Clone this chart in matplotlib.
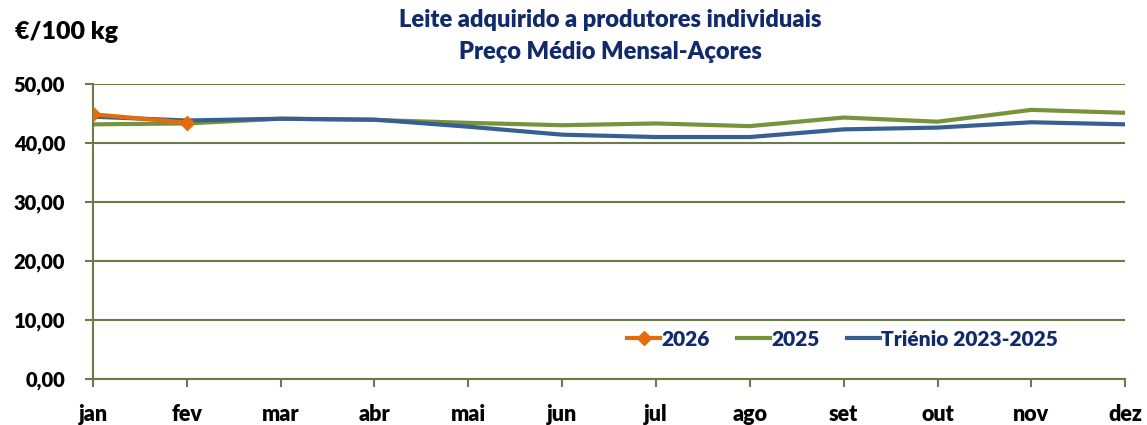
import matplotlib.pyplot as plt

months = ["jan", "fev", "mar", "abr", "mai", "jun", "jul", "ago", "set", "out", "nov", "dez"]
y2026 = [44.85, 43.45]
y2025 = [43.15, 43.3, 44.1, 43.9, 43.4, 43.0, 43.3, 42.85, 44.3, 43.6, 45.6, 45.1]
trienio = [44.45, 43.8, 44.1, 43.95, 42.75, 41.4, 41.0, 41.0, 42.3, 42.6, 43.5, 43.15]

navy = "#102a6b"
grid_col = "#6a7a48"
W = "heavy"

plt.rcParams['font.family'] = ['Lato', 'DejaVu Sans']

fig = plt.figure(figsize=(11.47, 4.25), dpi=100)
ax = fig.add_axes([0.081, 0.108, 0.9, 0.6946])

x = range(len(months))
ax.plot(range(len(y2026)), y2026, color="#E46C0A", lw=3, marker="D", ms=7, label="2026", zorder=4)
ax.plot(x, y2025, color="#77933C", lw=3, label="2025", zorder=2)
ax.plot(x, trienio, color="#376092", lw=3, label="Triénio 2023-2025", zorder=3)

ax.set_xlim(0, 11)
ax.set_ylim(0, 50)
ax.set_yticks(range(0, 51, 10))
ax.set_yticklabels([f"{v},00" for v in range(0, 51, 10)])
ax.set_xticks(list(x))
ax.set_xticklabels(months)
ax.grid(axis="y", color=grid_col, lw=1.5)
for s in ["top", "right"]:
    ax.spines[s].set_visible(False)
for s in ["left", "bottom"]:
    ax.spines[s].set_color(grid_col)
    ax.spines[s].set_linewidth(1.5)
ax.tick_params(axis="both", colors=grid_col, labelcolor="black", width=1.5, length=6)
ax.tick_params(axis="y", pad=14, labelsize=14.5)
ax.tick_params(axis="x", pad=12, labelsize=15.5)
for lbl in ax.get_xticklabels() + ax.get_yticklabels():
    lbl.set_fontweight(W)

leg = ax.legend(loc="lower right", bbox_to_anchor=(0.953, 0.04), ncol=3, frameon=False,
                prop={"size": 15, "weight": W}, handlelength=1.6, handletextpad=0.05,
                columnspacing=1.3)
for t in leg.get_texts():
    t.set_color(navy)

fig.text(0.532, 0.952, "Leite adquirido a produtores individuais", ha="center", va="center",
         fontsize=17, fontweight=W, color=navy)
fig.text(0.532, 0.877, "Preço Médio Mensal-Açores", ha="center", va="center",
         fontsize=17, fontweight=W, color=navy)
fig.text(0.013, 0.925, "€/100 kg", ha="left", va="center", fontsize=18, fontweight=W, color="black")

fig.savefig("out.png", dpi=100)
